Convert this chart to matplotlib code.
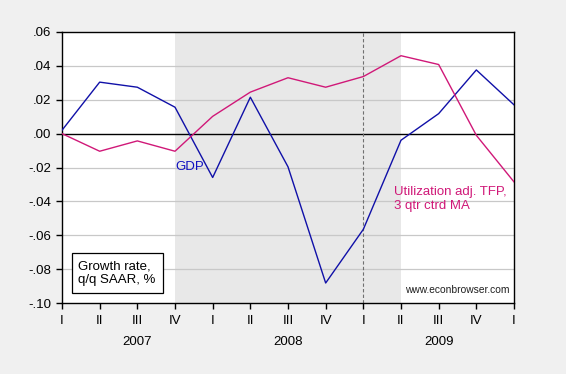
import matplotlib.pyplot as plt
from matplotlib.patches import Rectangle
from matplotlib.transforms import blended_transform_factory

plt.rcParams['font.family'] = ['Liberation Sans', 'DejaVu Sans']

# quarters 2007Q1 .. 2010Q1
quarters = ['I', 'II', 'III', 'IV', 'I', 'II', 'III', 'IV', 'I', 'II', 'III', 'IV', 'I']
years = ['2007', '2008', '2009']
gdp = [0.002, 0.0304, 0.0274, 0.0156, -0.0259, 0.0215, -0.0196, -0.0882,
       -0.0565, -0.0039, 0.0118, 0.0376, 0.017]
tfp = [0.000, -0.0104, -0.0043, -0.0104, 0.0102, 0.0245, 0.033, 0.0274,
       0.0337, 0.046, 0.0408, -0.001, -0.0285]

x = list(range(len(quarters)))
fs = 9.5

fig = plt.figure(figsize=(5.66, 3.74), dpi=100)
fig.patch.set_facecolor('#f0f0f0')
ax = fig.add_axes([62 / 566, 1 - 303 / 374, (514 - 62) / 566, (303 - 32) / 374])
ax.set_facecolor('white')

# recession shading 2007Q4 - 2009Q2
ax.axvspan(3, 9, color='#e8e8e8', zorder=0, lw=0)
for yv in [0.04, 0.02, -0.02, -0.04, -0.06, -0.08]:
    ax.axhline(yv, color='#c8c8c8', lw=0.9, zorder=1)
ax.axhline(0, color='black', lw=1.0, zorder=2)
ax.axvline(8, color='#707070', lw=0.8, ls=(0, (3, 2)), zorder=2)

ax.plot(x, gdp, color='#1010a8', lw=1.0, zorder=3)
ax.plot(x, tfp, color='#d01878', lw=1.0, zorder=3)

ax.set_xlim(0, 12)
ax.set_ylim(-0.10, 0.06)
ax.set_yticks([0.06, 0.04, 0.02, 0.0, -0.02, -0.04, -0.06, -0.08, -0.10])
ax.set_yticklabels(['.06', '.04', '.02', '.00', '-.02', '-.04', '-.06', '-.08', '-.10'])
ax.set_xticks(x)
ax.set_xticklabels(quarters)
ax.tick_params(labelsize=fs, length=4, width=1, color='black', pad=4)
ax.tick_params(axis='x', pad=5)
for s in ax.spines.values():
    s.set_linewidth(1.0)

trans = blended_transform_factory(ax.transData, ax.transAxes)
for i, yr in enumerate(years):
    ax.text(2 + 4 * i, -0.144, yr, ha='center', va='center', fontsize=fs,
            transform=trans, clip_on=False)

ax.text(3.0, -0.0195, 'GDP', color='#1010c0', fontsize=fs, va='center')
ax.text(8.81, -0.0386, 'Utilization adj. TFP,\n3 qtr ctrd MA', color='#d01878',
        fontsize=fs, va='center', linespacing=1.15)

ax.add_patch(Rectangle((0.022, 0.037), 0.201, 0.148, transform=ax.transAxes,
                       fc='white', ec='black', lw=0.9, zorder=5))
ax.text(0.036, 0.111, 'Growth rate,\nq/q SAAR, %', fontsize=fs, va='center',
        linespacing=1.15, transform=ax.transAxes, zorder=6)
ax.text(11.88, -0.0925, 'www.econbrowser.com', fontsize=7.4, ha='right', va='center',
        color='#202020')

fig.savefig('out.png', dpi=100, facecolor=fig.get_facecolor())
